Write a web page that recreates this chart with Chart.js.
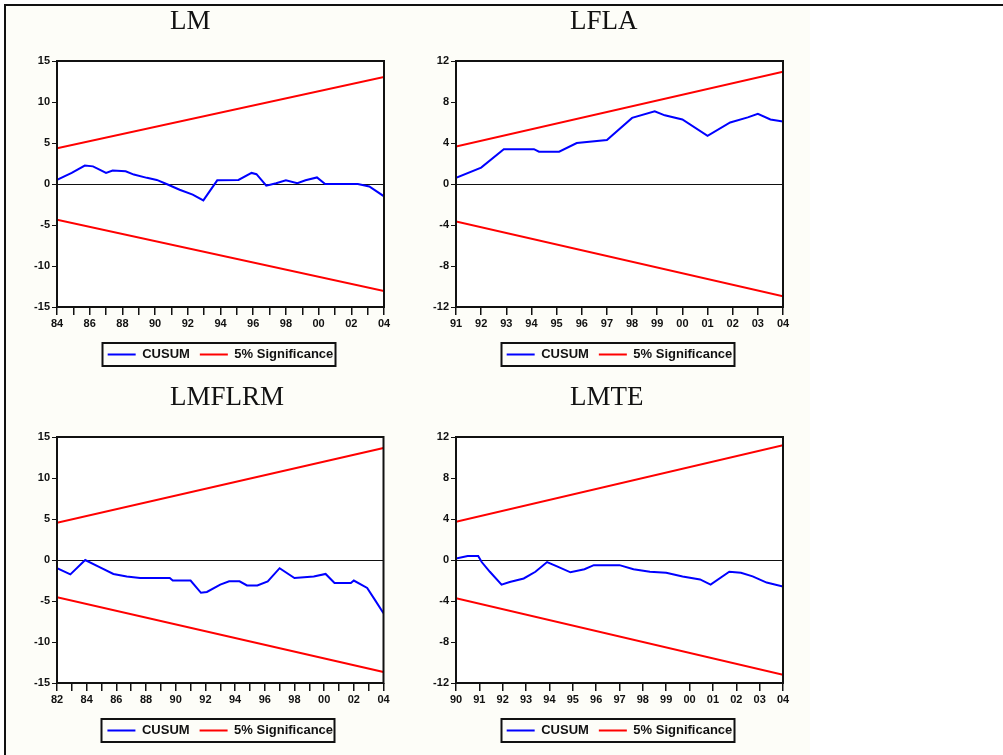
<!DOCTYPE html>
<html>
<head>
<meta charset="utf-8">
<script src="https://cdn.jsdelivr.net/npm/chart.js@4.4.0/dist/chart.umd.min.js"></script>
<style>
    body { margin: 0; width: 1003px; height: 755px; overflow: hidden; position: relative; background: #fff; }
    #sheet { position: absolute; left: 5px; top: 5px; width: 805px; height: 750px; background: #fdfdf8; }
    .frame { position: absolute; background: #111; z-index: 5; }
    canvas { position: absolute; }
</style>
</head>
<body>
<div id="sheet"></div>
<div class="frame" style="left:4px;top:4px;width:999px;height:2px"></div>
<div class="frame" style="left:4px;top:4px;width:2px;height:751px"></div>
<canvas id="lm" width="400" height="378" style="left:0;top:0"></canvas>
<canvas id="lfla" width="400" height="378" style="left:400px;top:0"></canvas>
<canvas id="lmflrm" width="400" height="378" style="left:0;top:376px"></canvas>
<canvas id="lmte" width="400" height="378" style="left:400px;top:376px"></canvas>
<script>
// LM
const lmYears = [1984.0, 1984.9, 1985.7, 1986.2, 1986.6, 1987.0, 1987.4, 1988.2, 1988.7, 1989.5,
    1990.1, 1990.7, 1991.5, 1992.3, 1992.95, 1993.8, 1995.1, 1995.9, 1996.2, 1996.8,
    1997.4, 1998.0, 1998.7, 1999.2, 1999.9, 2000.4, 2002.4, 2003.1, 2004.0];
const lmCusum = [0.5, 1.35, 2.25, 2.15, 1.75, 1.35, 1.65, 1.55, 1.15, 0.75,
    0.5, 0.0, -0.7, -1.3, -2.0, 0.45, 0.5, 1.35, 1.2, -0.2,
    0.1, 0.45, 0.1, 0.45, 0.8, 0.0, 0.0, -0.3, -1.5];
const lmBoundYears = [1984, 2004];
const lmBound = [4.35, 13.05];

// LFLA
const lflaYears = [1991.0, 1992.0, 1992.9, 1994.1, 1994.3, 1995.1, 1995.8, 1997.0, 1998.0, 1998.9,
    1999.3, 2000.0, 2001.0, 2001.9, 2002.6, 2003.0, 2003.5, 2004.0];
const lflaCusum = [0.6, 1.6, 3.4, 3.4, 3.15, 3.15, 4.0, 4.3, 6.45, 7.1,
    6.7, 6.3, 4.7, 6.0, 6.5, 6.85, 6.3, 6.1];
const lflaBoundYears = [1991, 2004];
const lflaBound = [3.65, 10.95];

// LMFLRM
const lmflrmYears = [1982.0, 1982.9, 1983.9, 1984.9, 1985.8, 1986.7, 1987.6, 1989.6, 1989.8, 1991.0,
    1991.7, 1992.1, 1993.0, 1993.6, 1994.3, 1994.8, 1995.5, 1996.2, 1997.0, 1998.0,
    1999.3, 2000.1, 2000.7, 2001.8, 2002.0, 2002.9, 2003.4, 2004.0];
const lmflrmCusum = [-1.0, -1.75, 0.0, -0.9, -1.7, -2.0, -2.2, -2.2, -2.5, -2.5,
    -4.0, -3.9, -3.0, -2.6, -2.6, -3.1, -3.1, -2.6, -1.0, -2.2,
    -2.0, -1.7, -2.8, -2.8, -2.5, -3.4, -4.8, -6.5];
const lmflrmBoundYears = [1982, 2004];
const lmflrmBound = [4.55, 13.65];

// LMTE
const lmteYears = [1990.0, 1990.5, 1990.95, 1991.1, 1991.45, 1991.95, 1992.3, 1992.9, 1993.4, 1993.9,
    1994.35, 1994.9, 1995.5, 1995.9, 1997.0, 1997.6, 1998.3, 1999.0, 1999.7, 2000.45,
    2000.9, 2001.7, 2002.2, 2002.7, 2003.3, 2004.0];
const lmteCusum = [0.15, 0.4, 0.4, -0.2, -1.15, -2.4, -2.15, -1.8, -1.15, -0.2,
    -0.65, -1.2, -0.9, -0.5, -0.5, -0.9, -1.15, -1.25, -1.6, -1.9,
    -2.4, -1.15, -1.25, -1.6, -2.2, -2.6];
const lmteBoundYears = [1990, 2004];
const lmteBound = [3.72, 11.2];

const legendLabels = ['CUSUM', '5% Significance'];
const tickFont = { family: 'Liberation Sans', size: 11, weight: 'bold' };

function points(xs, ys, sign = 1) {
    return xs.map((x, i) => ({ x: x, y: sign * ys[i] }));
}

// white plot area, black frame, a box round the legend, and the panel title
const plotFrame = {
    id: 'plotFrame',
    beforeDraw(chart) {
        const { ctx, chartArea: a } = chart;
        ctx.save();
        ctx.fillStyle = '#fff';
        ctx.fillRect(a.left, a.top, a.width, a.height);
        ctx.restore();
    },
    afterDraw(chart, args, opts) {
        const { ctx, chartArea: a } = chart;
        ctx.save();
        ctx.strokeStyle = '#111';
        ctx.lineWidth = 2;
        ctx.strokeRect(a.left, a.top, a.width, a.height);

        const boxes = chart.legend.legendHitBoxes;
        if (boxes.length) {
            const x0 = Math.min(...boxes.map(b => b.left)) - 6;
            const x1 = Math.max(...boxes.map(b => b.left + b.width)) + 1;
            const yc = boxes[0].top + boxes[0].height / 2;
            ctx.strokeRect(Math.round(x0) + 0.5, Math.round(yc - 11.5), Math.round(x1 - x0), 23);
        }

        ctx.fillStyle = '#111';
        ctx.font = "27px 'Liberation Serif'";
        ctx.textBaseline = 'alphabetic';
        ctx.textAlign = 'left';
        ctx.fillText(opts.text, 170, 29);
        ctx.restore();
    }
};

function makeChart(id, opts) {
    const { title, years, cusum, boundYears, bound, xMin, yMax, yStep, everyOther, pad } = opts;
    return new Chart(document.getElementById(id), {
        type: 'line',
        data: {
            datasets: [
                { label: legendLabels[0], data: points(years, cusum), borderColor: '#0000ff', backgroundColor: '#0000ff', borderWidth: 2 },
                { label: legendLabels[1], data: points(boundYears, bound), borderColor: '#ff0000', backgroundColor: '#ff0000', borderWidth: 2 },
                { label: '', data: points(boundYears, bound, -1), borderColor: '#ff0000', backgroundColor: '#ff0000', borderWidth: 2 }
            ]
        },
        options: {
            responsive: false,
            animation: false,
            devicePixelRatio: 1,
            elements: {
                line: { borderWidth: 2, tension: 0 },
                point: { radius: 0 }
            },
            layout: { padding: pad },
            plugins: {
                plotFrame: { text: title },
                legend: {
                    position: 'bottom',
                    fullSize: false,
                    labels: {
                        color: '#111',
                        font: { family: 'Liberation Sans', size: 13, weight: 'bold' },
                        usePointStyle: true,
                        pointStyle: 'line',
                        pointStyleWidth: 28,
                        padding: 10,
                        filter: item => item.text !== ''
                    }
                },
                tooltip: { enabled: false }
            },
            scales: {
                x: {
                    type: 'linear',
                    min: xMin,
                    max: 2004,
                    border: { display: false },
                    grid: { drawOnChartArea: false, tickLength: 8, tickColor: '#111', lineWidth: 1.5 },
                    ticks: {
                        stepSize: 1,
                        autoSkip: false,
                        maxRotation: 0,
                        padding: 2,
                        color: '#111',
                        font: tickFont,
                        callback: v => (everyOther && (v - xMin) % 2 !== 0) ? '' : String(v % 100).padStart(2, '0')
                    },
                    afterFit: scale => { scale.height = 31; }
                },
                y: {
                    min: -yMax,
                    max: yMax,
                    border: { display: false },
                    grid: {
                        color: ctx => ctx.tick.value === 0 ? '#111' : 'rgba(0,0,0,0)',
                        tickColor: '#111',
                        tickLength: 5,
                        lineWidth: 1
                    },
                    ticks: { stepSize: yStep, padding: 2, color: '#111', font: tickFont },
                    afterFit: scale => { scale.width = 40; }
                }
            }
        },
        plugins: [plotFrame]
    });
}

makeChart('lm', { title: 'LM', years: lmYears, cusum: lmCusum, boundYears: lmBoundYears, bound: lmBound,
    xMin: 1984, yMax: 15, yStep: 5, everyOther: true, pad: { left: 17, right: 16, top: 61, bottom: 7 } });
makeChart('lfla', { title: 'LFLA', years: lflaYears, cusum: lflaCusum, boundYears: lflaBoundYears, bound: lflaBound,
    xMin: 1991, yMax: 12, yStep: 4, everyOther: false, pad: { left: 16, right: 17, top: 61, bottom: 7 } });
makeChart('lmflrm', { title: 'LMFLRM', years: lmflrmYears, cusum: lmflrmCusum, boundYears: lmflrmBoundYears, bound: lmflrmBound,
    xMin: 1982, yMax: 15, yStep: 5, everyOther: true, pad: { left: 17, right: 16.5, top: 61, bottom: 7 } });
makeChart('lmte', { title: 'LMTE', years: lmteYears, cusum: lmteCusum, boundYears: lmteBoundYears, bound: lmteBound,
    xMin: 1990, yMax: 12, yStep: 4, everyOther: false, pad: { left: 16, right: 17, top: 61, bottom: 7 } });
</script>
</body>
</html>
